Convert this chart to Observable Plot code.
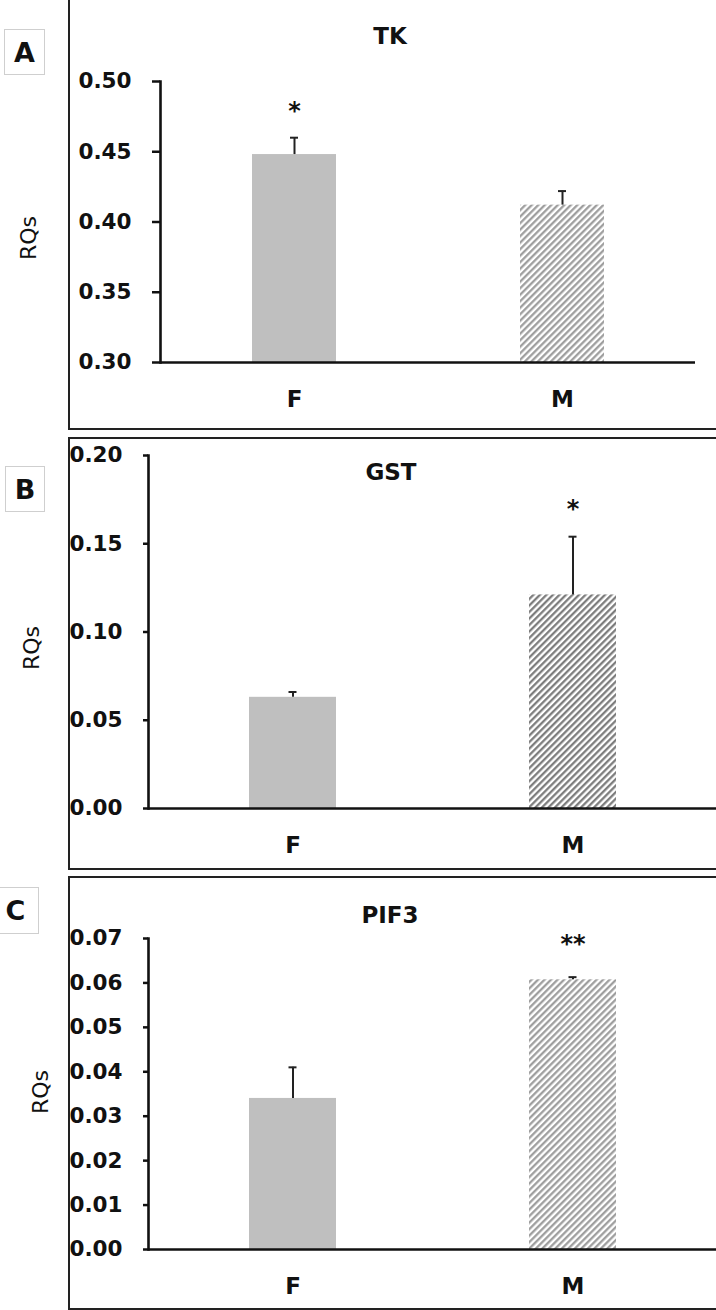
<!DOCTYPE html>
<html><head><meta charset="utf-8">
<script src="https://cdn.jsdelivr.net/npm/d3@7"></script>
<script src="https://cdn.jsdelivr.net/npm/@observablehq/plot@0.6"></script>
<style>
body{margin:0;background:#fff;width:716px;height:1310px;position:relative;overflow:hidden;font-family:"DejaVu Sans",sans-serif}
.frame{position:absolute;border:2px solid #222;box-sizing:border-box}
.tag{position:absolute;border:1.5px solid #cfcfcf;font-weight:700;font-size:27px;display:flex;align-items:center;justify-content:center;box-sizing:border-box;color:#111}
.title{position:absolute;font-weight:700;font-size:23px;transform:translate(-50%,-50%);color:#111;white-space:nowrap}
.ylab{position:absolute;font-size:22px;transform:translate(-50%,-50%) rotate(-90deg);color:#111;white-space:nowrap}
.holder{position:absolute;left:0}
</style></head><body>
<script>
// ---- data ----
const sexes = ["F", "M"];
const panelTags = ["A", "B", "C"];
const genes = ["TK", "GST", "PIF3"];
const tkMeans = [0.448, 0.412];
const tkErrors = [0.012, 0.010];
const tkStars = ["*", ""];
const tkTicks = [0.30, 0.35, 0.40, 0.45, 0.50];
const gstMeans = [0.063, 0.121];
const gstErrors = [0.003, 0.033];
const gstStars = ["", "*"];
const gstTicks = [0.00, 0.05, 0.10, 0.15, 0.20];
const pif3Means = [0.034, 0.0607];
const pif3Errors = [0.007, 0.0006];
const pif3Stars = ["", "**"];
const pif3Ticks = [0.00, 0.01, 0.02, 0.03, 0.04, 0.05, 0.06, 0.07];
const yLabel = "RQs";

function addDiv(cls, css, text) {
  const d = document.createElement("div");
  d.className = cls;
  Object.assign(d.style, css);
  if (text != null) d.textContent = text;
  document.body.appendChild(d);
  return d;
}

function panel(o) {
  const rows = sexes.map((s, i) => ({sex: s, mean: o.means[i], err: o.errors[i], top: o.means[i] + o.errors[i], star: o.stars[i]}));
  const base = o.ticks[0];
  const hid = "hatch-" + o.tag;
  const chart = Plot.plot({
    width: 716,
    height: o.height,
    marginTop: o.mt, marginBottom: o.mb, marginLeft: o.ml, marginRight: o.mr,
    style: {background: "transparent", fontFamily: "DejaVu Sans", fontWeight: "bold", fontSize: "21px", color: "#111", overflow: "visible"},
    x: {domain: sexes, paddingInner: o.pi, paddingOuter: o.po, align: 0.5, label: null, axis: null},
    y: {domain: [base, o.ticks[o.ticks.length - 1]], label: null, axis: null},
    marks: [
      Plot.barY(rows.filter(d => d.sex === "F"), {x: "sex", y1: () => base, y2: "mean", fill: "#bfbfbf"}),
      Plot.barY(rows.filter(d => d.sex === "M"), {x: "sex", y1: () => base, y2: "mean", fill: `url(#${hid})`}),
      Plot.ruleX(rows, {x: "sex", y1: "mean", y2: "top", stroke: "#222", strokeWidth: 2}),
      Plot.tickY(rows, {x: "sex", y: "top", stroke: "#222", strokeWidth: 2, insetLeft: o.capInset, insetRight: o.capInset}),
      Plot.text(rows, {x: "sex", y: "top", text: "star", dy: o.starDy, fontSize: 24, fill: "#111"}),
      Plot.axisY({ticks: o.ticks, tickFormat: d3.format(".2f"), tickSize: o.tickSize, tickPadding: 21, strokeWidth: 2.5, fontSize: 21.5, fontWeight: "bold", label: null}),
      Plot.axisX({tickSize: 0, tickPadding: o.xPad, fontSize: 23, fontWeight: "bold", label: null}),
      Plot.frame({anchor: "left", stroke: "#111", strokeWidth: 2.6}),
      Plot.ruleY([base], {stroke: "#111", strokeWidth: 2.6})
    ]
  });
  chart.insertAdjacentHTML("afterbegin",
    `<defs><pattern id="${hid}" patternUnits="userSpaceOnUse" width="4.6" height="4.6" patternTransform="rotate(45)">` +
    `<rect width="4.6" height="4.6" fill="#fff"/><line x1="1.2" y1="0" x2="1.2" y2="4.6" stroke="${o.hatch}" stroke-width="2.2"/></pattern></defs>`);
  const holder = addDiv("holder", {top: o.top + "px", width: "716px", height: o.height + "px"});
  holder.appendChild(chart);
  addDiv("frame", {left: "68px", top: o.frameTop + "px", width: "660px", height: (o.frameBottom - o.frameTop) + "px"});
  addDiv("tag", {left: o.tagBox[0] + "px", top: o.tagBox[1] + "px", width: (o.tagBox[2] - o.tagBox[0]) + "px", height: (o.tagBox[3] - o.tagBox[1]) + "px"}, o.tag);
  addDiv("title", {left: o.titlePos[0] + "px", top: o.titlePos[1] + "px"}, o.gene);
  addDiv("ylab", {left: o.ylabPos[0] + "px", top: o.ylabPos[1] + "px"}, yLabel);
}

panel({tag: panelTags[0], gene: genes[0], means: tkMeans, errors: tkErrors, stars: tkStars, ticks: tkTicks,
  top: 0, height: 437, mt: 81, mb: 75, ml: 160, mr: 21, pi: 0.687, po: 0.3415, capInset: 38, tickSize: 8,
  hatch: "#9a9a9a", starDy: -26, xPad: 28, frameTop: -5, frameBottom: 430,
  tagBox: [4, 29, 45, 75], titlePos: [390, 36], ylabPos: [28, 238]});
panel({tag: panelTags[1], gene: genes[1], means: gstMeans, errors: gstErrors, stars: gstStars, ticks: gstTicks,
  top: 437, height: 435, mt: 18, mb: 64, ml: 148, mr: 0, pi: 0.69, po: 0.3557, capInset: 39.5, tickSize: 5,
  hatch: "#777777", starDy: -27, xPad: 28, frameTop: 437, frameBottom: 870,
  tagBox: [5, 466, 45, 512], titlePos: [391, 472], ylabPos: [31, 648]});
panel({tag: panelTags[2], gene: genes[2], means: pif3Means, errors: pif3Errors, stars: pif3Stars, ticks: pif3Ticks,
  top: 872, height: 438, mt: 66, mb: 61, ml: 148, mr: 0, pi: 0.69, po: 0.3557, capInset: 39.5, tickSize: 5,
  hatch: "#9a9a9a", starDy: -33, xPad: 28, frameTop: 876, frameBottom: 1310,
  tagBox: [-8, 887, 39, 934], titlePos: [390, 915], ylabPos: [40, 1092]});
</script>
</body></html>
